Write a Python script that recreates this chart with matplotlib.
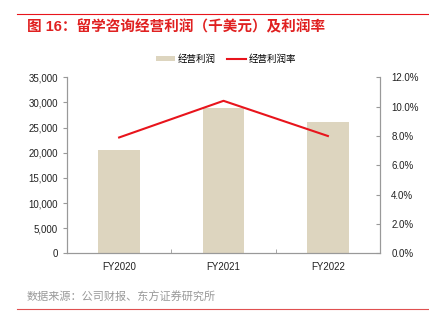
import matplotlib.pyplot as plt
from matplotlib.ticker import FuncFormatter, PercentFormatter, FixedLocator

plt.rcParams['font.family'] = ['Liberation Sans', 'Noto Sans CJK SC', 'DejaVu Sans']
plt.rcParams['axes.unicode_minus'] = False

years = ['FY2020', 'FY2021', 'FY2022']
profit = [20500, 28900, 26100]      # 经营利润（千美元）
margin = [7.9, 10.4, 8.0]           # 经营利润率（%）

fig = plt.figure(figsize=(4.29, 3.32), dpi=100)
ax = fig.add_axes([0.156, 0.237, 0.73, 0.53])
ax2 = ax.twinx()

x = list(range(len(years)))
ax.bar(x, profit, width=0.4, color='#ddd5bf', label='经营利润', zorder=2)
ax2.plot(x, margin, color='#e8141c', lw=1.5, label='经营利润率', zorder=3)

ax.set_xlim(-0.5, 2.5)
ax.set_ylim(0, 35000)
ax.set_yticks(range(0, 35001, 5000))
ax.yaxis.set_major_formatter(FuncFormatter(lambda v, p: f'{int(v):,}'))
ax2.set_ylim(0, 12)
ax2.set_yticks(range(0, 13, 2))
ax2.yaxis.set_major_formatter(PercentFormatter(decimals=1))

ax.set_xticks(x)
ax.set_xticklabels(years)
ax.xaxis.set_minor_locator(FixedLocator([-0.5, 0.5, 1.5, 2.5]))
ax.tick_params(axis='x', which='major', length=0, labelsize=7, pad=6, colors='#222222')
ax.tick_params(axis='x', which='minor', length=3, direction='in', color='#999999')
ax.tick_params(axis='y', length=3, direction='out', labelsize=7, color='#999999',
               labelcolor='#222222')
ax2.tick_params(axis='y', length=3, direction='in', labelsize=7, color='#999999',
                labelcolor='#222222', pad=8)

for a in (ax, ax2):
    a.spines['top'].set_visible(False)
    for s in ('left', 'right', 'bottom'):
        a.spines[s].set_color('#999999')
        a.spines[s].set_linewidth(0.8)

# 图例放在图表上方居中
h1, l1 = ax.get_legend_handles_labels()
h2, l2 = ax2.get_legend_handles_labels()
fig.legend(h1 + h2, l1 + l2, loc='center', bbox_to_anchor=(0.528, 0.822), ncol=2,
           frameon=False, fontsize=6.8, handlelength=2.0, handleheight=0.35,
           columnspacing=1.2, handletextpad=0.3)

# 标题和来源
fig.add_artist(plt.Line2D([0.04, 1.0], [0.958, 0.958], color='#e8141c', lw=0.8))
fig.text(0.063, 0.918, '图 16：留学咨询经营利润（千美元）及利润率', color='#e02020',
         fontsize=10.5, fontweight='bold', va='center')
fig.text(0.063, 0.104, '数据来源：公司财报、东方证券研究所', color='#999999',
         fontsize=8, va='center')
fig.add_artist(plt.Line2D([0.04, 1.0], [0.069, 0.069], color='#e05050', lw=0.8))

fig.savefig('out.png', dpi=100)
